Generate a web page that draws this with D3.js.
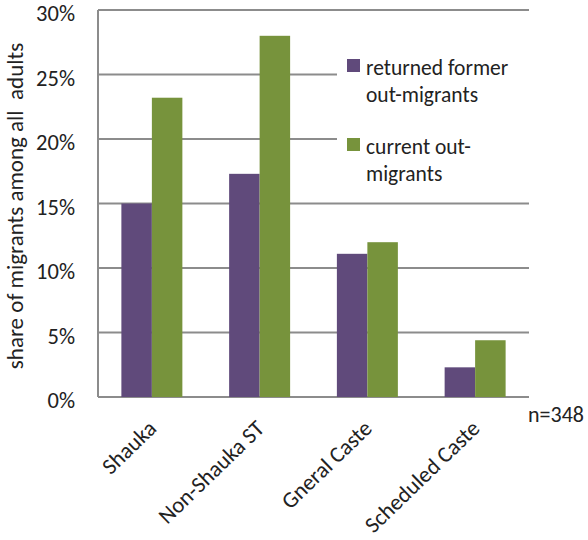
<!DOCTYPE html>
<html><head><meta charset="utf-8">
<script src="https://cdn.jsdelivr.net/npm/d3@7"></script>
<style>body{margin:0;background:#fff}text{font-family:Carlito,"Open Sans",sans-serif;fill:#222}</style>
</head><body><svg id="c" width="588" height="540"></svg>
<script>
const categories = ["Shauka", "Non-Shauka ST", "Gneral Caste", "Scheduled Caste"];
const seriesNames = ["returned former out-migrants", "current out-migrants"];
const returnedFormer = [15.0, 17.3, 11.1, 2.3];
const currentOut = [23.2, 28.0, 12.0, 4.4];
const yTicks = [0, 5, 10, 15, 20, 25, 30];
const colors = ["#604a7b", "#77933c"];

const svg = d3.select("#c");
const m = {l: 98, r: 529, t: 10, b: 397};
const x = d3.scaleBand().domain(categories).range([m.l, m.r]).paddingInner(0.434).paddingOuter(0.217);
const xs = d3.scaleBand().domain([0,1]).range([0, x.bandwidth()]);
const y = d3.scaleLinear().domain([0, 30]).range([m.b, m.t]);

// gridlines
svg.append("g").selectAll("line").data(yTicks).join("line")
  .attr("x1", m.l).attr("x2", m.r).attr("y1", d => y(d)).attr("y2", d => y(d))
  .attr("stroke", "#8c8c8c").attr("stroke-width", 2);
// legend background box
svg.append("rect").attr("x", 337).attr("y", 22).attr("width", 195).attr("height", 172).attr("fill", "#fff");
// axis line
svg.append("line").attr("x1", m.l).attr("x2", m.l).attr("y1", m.t).attr("y2", m.b).attr("stroke", "#8c8c8c").attr("stroke-width", 2);

const data = [returnedFormer, currentOut];
data.forEach((vals, si) => {
  svg.append("g").selectAll("rect").data(vals).join("rect")
    .attr("x", (d, i) => x(categories[i]) + xs(si))
    .attr("width", xs.bandwidth())
    .attr("y", d => y(d))
    .attr("height", d => y(0) - y(d))
    .attr("fill", colors[si]);
});

// y tick labels
svg.append("g").selectAll("text").data(yTicks).join("text")
  .attr("x", 75).attr("y", d => y(d) + 11).attr("text-anchor", "end")
  .attr("font-size", 22.5).text(d => d + "%");

// y title
svg.append("text").attr("transform", "translate(23,206) rotate(-90)")
  .attr("text-anchor", "middle").attr("font-size", 23).attr("xml:space", "preserve")
  .text("share of migrants among all  adults");

// x labels
svg.append("g").selectAll("text").data(categories).join("text")
  .attr("transform", d => `translate(${x(d) + x.bandwidth()/2 + 6},${430}) rotate(-44)`)
  .attr("text-anchor", "end").attr("font-size", 22.5).text(d => d);

svg.append("text").attr("x", 528).attr("y", 422).attr("font-size", 22).text("n=348");

// legend
const legend = [["returned former", "out-migrants"], ["current out-", "migrants"]];
legend.forEach((lines, i) => {
  const g = svg.append("g").attr("transform", `translate(347,${59 + i * 79})`);
  g.append("rect").attr("width", 13).attr("height", 13).attr("fill", colors[i]);
  lines.forEach((t, j) => g.append("text").attr("x", 19).attr("y", 16 + j * 26.5).attr("font-size", 21.5)
    .attr("textLength", null).text(t));
});
</script></body></html>
